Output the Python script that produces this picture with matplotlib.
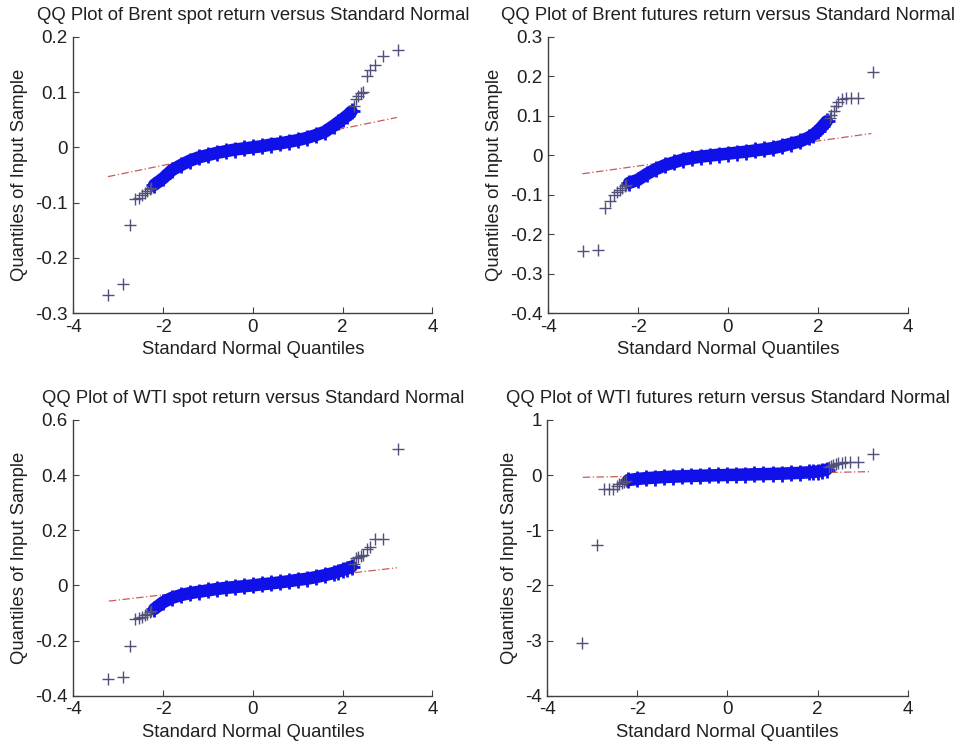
import numpy as np
import matplotlib
matplotlib.use("Agg")
import matplotlib.pyplot as plt
from matplotlib.ticker import FuncFormatter

plt.rcParams['font.family'] = ['Liberation Sans', 'DejaVu Sans']
plt.rcParams['axes.unicode_minus'] = False

titles = [
    "QQ Plot of Brent spot return versus Standard Normal",
    "QQ Plot of Brent futures return versus Standard Normal",
    "QQ Plot of WTI spot return versus Standard Normal",
    "QQ Plot of WTI futures return versus Standard Normal",
]
xlabel = "Standard Normal Quantiles"
ylabel = "Quantiles of Input Sample"

x_ticks = [-4, -2, 0, 2, 4]
y_ticks = [
    [-0.3, -0.2, -0.1, 0, 0.1, 0.2],
    [-0.4, -0.3, -0.2, -0.1, 0, 0.1, 0.2, 0.3],
    [-0.4, -0.2, 0, 0.2, 0.4, 0.6],
    [-4, -3, -2, -1, 0, 1],
]

# theoretical (standard normal) quantiles used in every panel
lower_tail_q = [-3.23, -2.90, -2.73, -2.62, -2.54, -2.46, -2.40, -2.35, -2.30, -2.26]
body_q = [-2.2, -2.0, -1.8, -1.6, -1.4, -1.2, -1.0, -0.8, -0.6, -0.4, -0.2, 0.0,
          0.2, 0.4, 0.6, 0.8, 1.0, 1.2, 1.4, 1.6, 1.8, 1.9, 2.0, 2.1, 2.2]
upper_tail_q = [2.26, 2.30, 2.35, 2.40, 2.46, 2.54, 2.62, 2.73, 2.90, 3.23]

# Brent spot
brent_spot_lower = [-0.267, -0.247, -0.141, -0.093, -0.091, -0.086, -0.083, -0.079, -0.076, -0.073]
brent_spot_body = [-0.068, -0.056, -0.041, -0.032, -0.024, -0.018, -0.014, -0.010, -0.007, -0.004,
                   -0.002, 0.000, 0.002, 0.005, 0.007, 0.010, 0.013, 0.017, 0.022, 0.028,
                   0.039, 0.045, 0.051, 0.057, 0.065]
brent_spot_upper = [0.075, 0.088, 0.093, 0.098, 0.100, 0.129, 0.139, 0.148, 0.165, 0.176]
brent_spot_ref_x = [-3.23, 3.21]
brent_spot_ref_y = [-0.053, 0.054]

# Brent futures
brent_fut_lower = [-0.242, -0.240, -0.133, -0.115, -0.100, -0.093, -0.088, -0.083, -0.078, -0.075]
brent_fut_body = [-0.070, -0.062, -0.047, -0.035, -0.025, -0.018, -0.011, -0.007, -0.0035, -0.001,
                  0.0016, 0.004, 0.0066, 0.009, 0.012, 0.015, 0.018, 0.023, 0.029, 0.035,
                  0.045, 0.052, 0.061, 0.073, 0.086]
brent_fut_upper = [0.095, 0.103, 0.113, 0.125, 0.135, 0.142, 0.144, 0.145, 0.146, 0.210]
brent_fut_ref_x = [-3.24, 3.19]
brent_fut_ref_y = [-0.047, 0.055]

# WTI spot
wti_spot_lower = [-0.340, -0.332, -0.218, -0.121, -0.119, -0.115, -0.108, -0.103, -0.097, -0.093]
wti_spot_body = [-0.086, -0.061, -0.045, -0.035, -0.028, -0.023, -0.018, -0.013, -0.009, -0.006,
                 -0.003, 0.000, 0.004, 0.007, 0.011, 0.015, 0.020, 0.024, 0.030, 0.037,
                 0.045, 0.050, 0.056, 0.061, 0.068]
wti_spot_upper = [0.078, 0.100, 0.104, 0.108, 0.112, 0.132, 0.140, 0.167, 0.168, 0.495]
wti_spot_ref_x = [-3.21, 3.21]
wti_spot_ref_y = [-0.057, 0.064]

# WTI futures
wti_fut_lower = [-3.05, -1.27, -0.25, -0.25, -0.245, -0.20, -0.16, -0.14, -0.12, -0.11]
wti_fut_body = [-0.090, -0.070, -0.055, -0.045, -0.035, -0.028, -0.022, -0.016, -0.011, -0.006,
                -0.002, 0.002, 0.006, 0.010, 0.014, 0.018, 0.022, 0.027, 0.033, 0.040,
                0.050, 0.057, 0.065, 0.080, 0.100]
wti_fut_upper = [0.14, 0.16, 0.19, 0.21, 0.22, 0.228, 0.230, 0.232, 0.235, 0.38]
wti_fut_ref_x = [-3.21, 3.18]
wti_fut_ref_y = [-0.040, 0.063]

panels = [
    (brent_spot_lower, brent_spot_body, brent_spot_upper, brent_spot_ref_x, brent_spot_ref_y),
    (brent_fut_lower, brent_fut_body, brent_fut_upper, brent_fut_ref_x, brent_fut_ref_y),
    (wti_spot_lower, wti_spot_body, wti_spot_upper, wti_spot_ref_x, wti_spot_ref_y),
    (wti_fut_lower, wti_fut_body, wti_fut_upper, wti_fut_ref_x, wti_fut_ref_y),
]

positions = [
    [0.0764, 0.5806, 0.3740, 0.3703],
    [0.5711, 0.5806, 0.3744, 0.3703],
    [0.0764, 0.0687, 0.3740, 0.3691],
    [0.5700, 0.0687, 0.3755, 0.3691],
]

fig = plt.figure(figsize=(9.6, 7.47), dpi=100)
fmt = FuncFormatter(lambda v, p: "%g" % round(v, 6))
axis_col = "#404040"
blue = "#1010e8"
tail_col = "#50507a"

for i, (lo, body, up, rx, ry) in enumerate(panels):
    ax = fig.add_axes(positions[i])
    # reference line
    ax.plot(rx, ry, linestyle=(0, (6, 2, 1, 2)), color="#c85a5a", lw=0.9, zorder=1)
    # dense central band
    ax.plot(body_q, body, color=blue, lw=9, solid_capstyle="round", zorder=2)
    ax.plot(body_q, body, linestyle="none", marker="+", color=blue, ms=12, mew=2, zorder=3)
    # tails
    ax.plot(lower_tail_q, lo, linestyle="none", marker="+", color=tail_col, ms=8, mew=1.0, zorder=4)
    ax.plot(upper_tail_q, up, linestyle="none", marker="+", color=tail_col, ms=8, mew=1.0, zorder=4)

    ax.set_xlim(x_ticks[0], x_ticks[-1])
    ax.set_ylim(y_ticks[i][0], y_ticks[i][-1])
    ax.set_xticks(x_ticks)
    ax.set_yticks(y_ticks[i])
    ax.xaxis.set_major_formatter(fmt)
    ax.yaxis.set_major_formatter(fmt)
    for s in ["top", "right"]:
        ax.spines[s].set_visible(False)
    for s in ["left", "bottom"]:
        ax.spines[s].set_color(axis_col)
        ax.spines[s].set_linewidth(1.0)
    ax.tick_params(direction="in", length=4, width=0.8, color=axis_col,
                   labelsize=13.5, labelcolor="#202020", pad=4)
    ax.set_title(titles[i], fontsize=13.3, color="#202020", pad=12)
    ax.set_xlabel(xlabel, fontsize=13.3, color="#202020", labelpad=4)
    ax.set_ylabel(ylabel, fontsize=13.3, color="#202020", labelpad=5)
    ax.set_facecolor("white")

fig.savefig("out.png", dpi=100, facecolor="white")
